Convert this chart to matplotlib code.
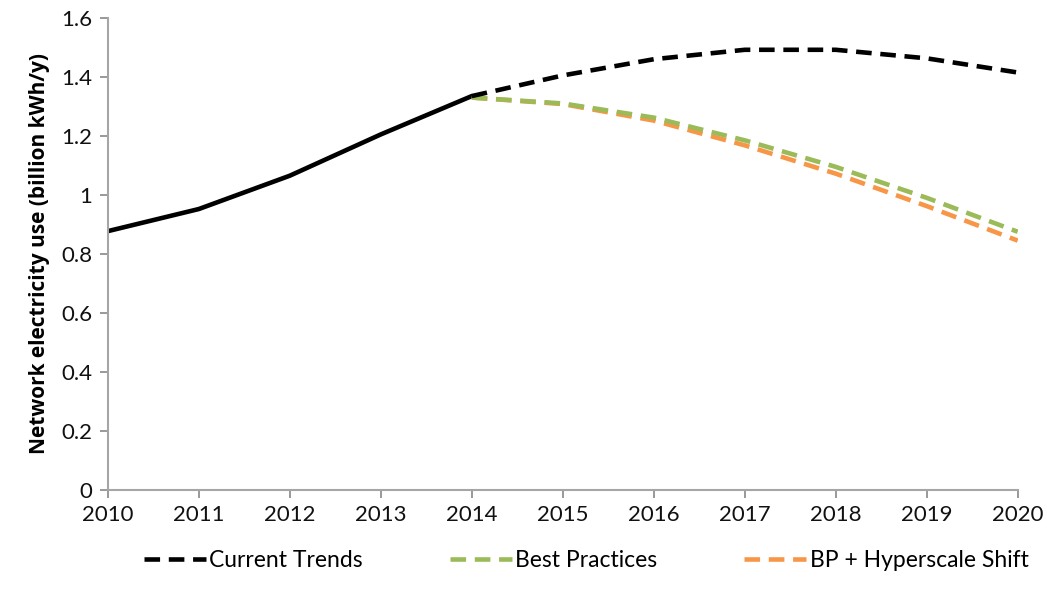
import matplotlib.pyplot as plt

plt.rcParams['font.family'] = ['Lato', 'DejaVu Sans']

# data
hist_years = [2010, 2011, 2012, 2013, 2014]
hist_vals = [0.877, 0.952, 1.065, 1.205, 1.335]

proj_years = [2014, 2015, 2016, 2017, 2018, 2019, 2020]
current_trends = [1.335, 1.405, 1.46, 1.492, 1.492, 1.463, 1.415]
best_practices = [1.33, 1.31, 1.262, 1.185, 1.095, 0.99, 0.875]
bp_hyperscale = [1.33, 1.308, 1.252, 1.168, 1.072, 0.962, 0.845]

years = list(range(2010, 2021))
yticks = [0, 0.2, 0.4, 0.6, 0.8, 1, 1.2, 1.4, 1.6]
ytick_labels = ["0", "0.2", "0.4", "0.6", "0.8", "1", "1.2", "1.4", "1.6"]

fig = plt.figure(figsize=(10.47, 5.98), dpi=100)
ax = fig.add_axes([0.103, 0.181, 0.869, 0.789])

dash = (3.4, 1.9)
ax.plot(hist_years, hist_vals, color="black", linewidth=3.3, solid_capstyle="round")
ax.plot(proj_years, bp_hyperscale, color="#F79646", linewidth=3.3, dashes=dash,
        label="BP + Hyperscale Shift")
ax.plot(proj_years, best_practices, color="#9BBB59", linewidth=3.3, dashes=dash,
        label="Best Practices")
ax.plot(proj_years, current_trends, color="black", linewidth=3.3, dashes=dash,
        label="Current Trends")

ax.set_xlim(2010, 2020)
ax.set_ylim(0, 1.6)
ax.set_xticks(years)
ax.set_yticks(yticks)
ax.set_yticklabels(ytick_labels)
ax.tick_params(axis="both", labelsize=16, colors="#888888", labelcolor="#111111",
               length=6, width=1.2, direction="out")
ax.tick_params(axis="x", pad=5)
ax.tick_params(axis="y", pad=5)

for side in ["top", "right"]:
    ax.spines[side].set_visible(False)
for side in ["left", "bottom"]:
    ax.spines[side].set_color("#A6A6A6")
    ax.spines[side].set_linewidth(1.5)

ax.set_ylabel("Network electricity use (billion kWh/y)", fontsize=15,
              fontweight="bold", family=["Open Sans", "DejaVu Sans"], labelpad=8)

handles, labels = ax.get_legend_handles_labels()
order = [2, 1, 0]
fig.legend([handles[i] for i in order], [labels[i] for i in order],
           loc="upper center", bbox_to_anchor=(0.56, 0.115), ncol=3,
           frameon=False, fontsize=16.5, handlelength=2.7, columnspacing=3.8,
           handletextpad=0.15)

plt.savefig("out.png", dpi=100)
